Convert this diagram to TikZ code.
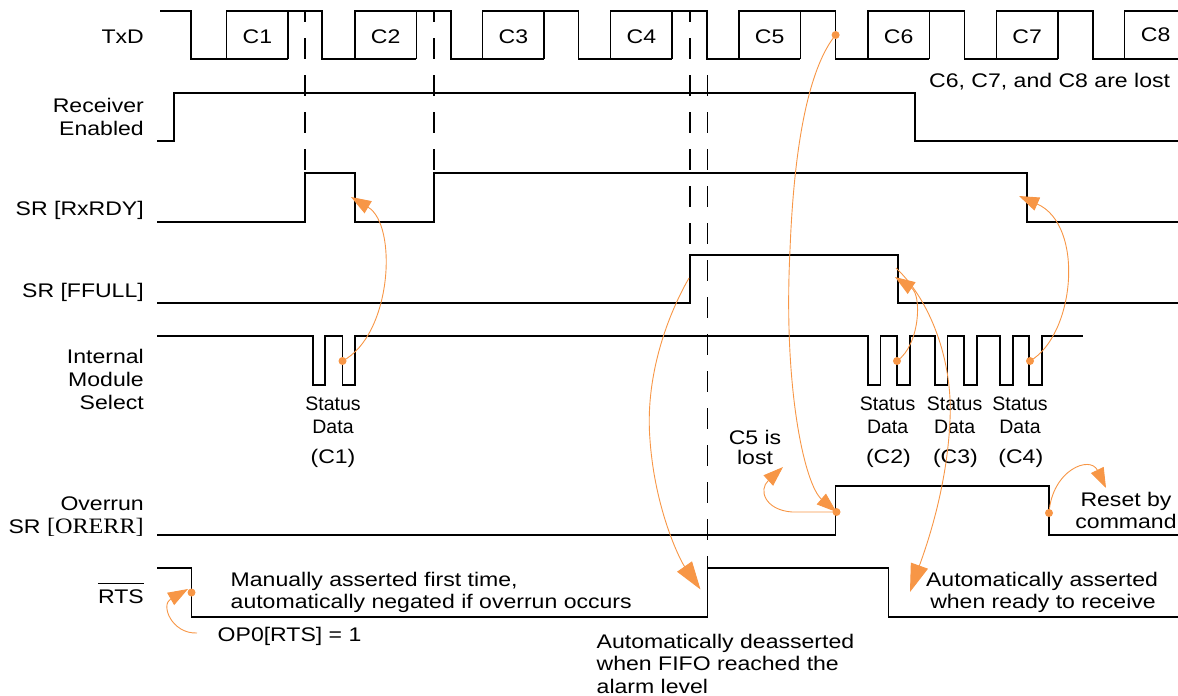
\documentclass[tikz,border=0pt]{standalone}
\usepackage{fontspec}
\setmainfont{Liberation Sans}[FakeStretch=1.17]
\newfontfamily\stfont{Liberation Sans}
\newfontfamily\serfont{Liberation Serif}[FakeStretch=1.1]
\usetikzlibrary{arrows.meta}
\definecolor{orc}{RGB}{247,150,70}
\tikzset{
  wave/.style={line width=1.5pt, line join=miter},
  dsh/.style={line width=1.5pt, dash pattern=on 21pt off 16pt, dash phase=10pt},
  lbl/.style={inner sep=0pt, font=\fontsize{19.7}{22.5}\selectfont},
  stl/.style={inner sep=0pt, font=\stfont\fontsize{19.5}{22.5}\selectfont},
  orl/.style={draw=orc, line width=0.9pt},
  sarr/.style={orl, -{Triangle[length=20pt,width=14pt,fill=orc]}},
  barr/.style={orl, -{Triangle[length=28pt,width=18pt,fill=orc]}},
  dotc/.style={fill=orc}
}
\begin{document}
\begin{tikzpicture}[x=1pt,y=-1pt]
\useasboundingbox (0,0) rectangle (1178,696);

% ---------- waveforms ----------
% TxD
\draw[wave] (160,11)--(191,11)--(191,59)--(226.6,59)--(226.6,11)--(322,11)--(322,59)--(354.8,59)--(354.8,11)
  --(450.8,11)--(450.8,59)--(482.6,59)--(482.6,11)--(578.6,11)--(578.6,59)--(610.6,59)--(610.6,11)
  --(707,11)--(707,59)--(738.8,59)--(738.8,11)--(835.6,11)--(835.6,59)--(867.8,59)--(867.8,11)
  --(964.6,11)--(964.6,59)--(996.4,59)--(996.4,11)--(1092.8,11)--(1092.8,59)--(1124.6,59)--(1124.6,11)--(1178,11);
\foreach \s/\e in {226.6/288.1,354.8/416.3,482.6/544.1,610.6/672.1,738.8/800.3,867.8/929.3,996.4/1057.9}
  \draw[wave] (\s,59)--(\e,59) (\e,11)--(\e,59);
\draw[wave] (1124.6,59)--(1178,59);
% Receiver enabled
\draw[wave] (157,141)--(174,141)--(174,93)--(915,93)--(915,141)--(1178,141);
% SR RxRDY
\draw[wave] (157,222)--(305,222)--(305,173)--(355,173)--(355,222)--(434,222)--(434,173)--(1027,173)--(1027,222)--(1178,222);
% SR FFULL
\draw[wave] (157,303)--(690,303)--(690,255)--(898,255)--(898,303)--(1178,303);
% Internal module select
\draw[wave] (157,336)--(313,336)--(313,385)--(325,385)--(325,336)--(342.5,336)--(342.5,385)--(355,385)--(355,336)
  --(868,336)--(868,385)--(880.5,385)--(880.5,336)--(897,336)--(897,385)--(910,385)--(910,336)
  --(935,336)--(935,385)--(947.5,385)--(947.5,336)--(964,336)--(964,385)--(977,385)--(977,336)
  --(1000,336)--(1000,385)--(1013,385)--(1013,336)--(1029,336)--(1029,385)--(1042,385)--(1042,336)--(1083,336);
% Overrun
\draw[wave] (157,535)--(835.6,535)--(835.6,486)--(1049,486)--(1049,535)--(1178,535);
% RTS
\draw[wave] (157,568)--(191.4,568)--(191.4,617)--(707.5,617)--(707.5,568)--(888.5,568)--(888.5,617)--(1178,617);

% dashed markers
\draw[dsh] (305,11)--(305,222);
\draw[dsh] (434,11)--(434,222);
\draw[dsh] (690,11)--(690,303);
\draw[dsh] (707.5,11)--(707.5,617);

% ---------- labels ----------
\node[lbl, anchor=base east] (lTxD) at (144,43.3) {TxD};
\node[lbl, anchor=base east] (lRec1) at (144,112.7) {Receiver};
\node[lbl, anchor=base east] (lRec2) at (144,135) {Enabled};
\node[lbl, anchor=base east] (lRx) at (144,215.7) {SR [RxRDY]};
\node[lbl, anchor=base east] (lFF) at (144,297.7) {SR [FFULL]};
\node[lbl, anchor=base east] (lIMS1) at (144,363.3) {Internal};
\node[lbl, anchor=base east] (lIMS2) at (144,386) {Module};
\node[lbl, anchor=base east] (lIMS3) at (144,409.3) {Select};
\node[lbl, anchor=base east] (lOv1) at (144,510) {Overrun};
\node[lbl, anchor=base east] (lOv2) at (144,533.3) {SR {\serfont\fontsize{22}{22}\selectfont[ORERR]}};
\node[lbl, anchor=base east] (lRTS) at (144,603.3) {RTS};
\draw[line width=1.3pt] ([yshift=6pt]lRTS.north west) -- ([yshift=6pt]lRTS.north east);

\foreach \n/\x in {1/257.4,2/385.6,3/513.4,4/641.4,5/769.6,6/898.6,7/1027.2}
  \node[lbl, anchor=base] (c\n) at (\x,43.3) {C\n};
\node[lbl, anchor=base] (c8) at (1155.6,41.7) {C8};

\node[lbl, anchor=base west] (lost) at (929,87.3) {C6, C7, and C8 are lost};

\node[stl, anchor=base] (s1a) at (333,410.7) {Status};
\node[stl, anchor=base] (s1b) at (333,433.3) {Data};
\node[lbl, anchor=base] (s1c) at (333,463.3) {(C1)};
\foreach \n/\x in {2/887.6,3/954.6,4/1020}{
  \node[stl, anchor=base] (s\n a) at (\x,410.7) {Status};
  \node[stl, anchor=base] (s\n b) at (\x,433.3) {Data};
  \node[lbl, anchor=base] (s\n c) at (\x+0.8,463.3) {(C\n)};
}

\node[lbl, anchor=base] (c5a) at (755,444.5) {C5 is};
\node[lbl, anchor=base] (c5b) at (755,464) {lost};
\node[lbl, anchor=base] (rs1) at (1126,506) {Reset by};
\node[lbl, anchor=base] (rs2) at (1126,528.3) {command};

\node[lbl, anchor=base west] (ma1) at (230.5,586) {Manually asserted first time,};
\node[lbl, anchor=base west] (ma2) at (230.5,608.3) {automatically negated if overrun occurs};
\node[lbl, anchor=base west] (op) at (217.5,641.7) {OP0[RTS] = 1};
\node[lbl, anchor=base] (aa1) at (1042,586) {Automatically asserted};
\node[lbl, anchor=base] (aa2) at (1043,608.3) {when ready to receive};
\node[lbl, anchor=base west] (ad1) at (596.5,648.3) {Automatically deasserted};
\node[lbl, anchor=base west] (ad2) at (596.5,670.7) {when FIFO reached the};
\node[lbl, anchor=base west] (ad3) at (596.5,693.3) {alarm level};

% ---------- orange annotations ----------
\coordinate (dC1) at (342.5,361);
\coordinate (tRx1) at (351,197);
\coordinate (dC2) at (897,361);
\coordinate (tFF) at (895,277);
\coordinate (dC4) at (1030,361);
\coordinate (tRx2) at (1019,196);
\coordinate (sFF2) at (896,268);
\coordinate (tRTS2) at (910,592);
\coordinate (dTx) at (835.6,35);
\coordinate (dOr1) at (836.5,512);
\coordinate (tLost) at (783,467);
\coordinate (dOr2) at (1049,513);
\coordinate (tReset) at (1106,488);
\coordinate (sFF1) at (689,278);
\coordinate (tRTS1) at (700.5,589.5);
\coordinate (sOP) at (197,633);
\coordinate (dRTS) at (191.5,592.5);
\coordinate (tRTS0) at (188,589);

\draw[sarr] (dC1) .. controls (392,335) and (398,225) .. (tRx1);
\draw[sarr] (dC4) .. controls (1075,335) and (1085,225) .. (tRx2);
\draw[sarr] (dC2) .. controls (920,345) and (922,295) .. (tFF);
\draw[barr] (sFF2) .. controls (930,300) and (953,360) .. (950,420) .. controls (947,490) and (925,550) .. (tRTS2);
\draw[sarr] (dTx) .. controls (815,60) and (795,120) .. (790,250) .. controls (783,390) and (805,485) .. (dOr1);
\draw[sarr] (dOr1) -- (792,512) .. controls (765,510) and (758,490) .. (tLost);
\draw[sarr] (dOr2) .. controls (1052,470) and (1090,455) .. (tReset);
\draw[barr] (sFF1) .. controls (665,320) and (645,380) .. (650,440) .. controls (655,510) and (680,560) .. (tRTS1);
\draw[sarr] (sOP) .. controls (172,634) and (160,605) .. (tRTS0);

\foreach \d in {dC1,dC2,dC4,dTx,dOr1,dOr2,dRTS}
  \fill[dotc] (\d) circle[radius=4pt];
\end{tikzpicture}
\end{document}
